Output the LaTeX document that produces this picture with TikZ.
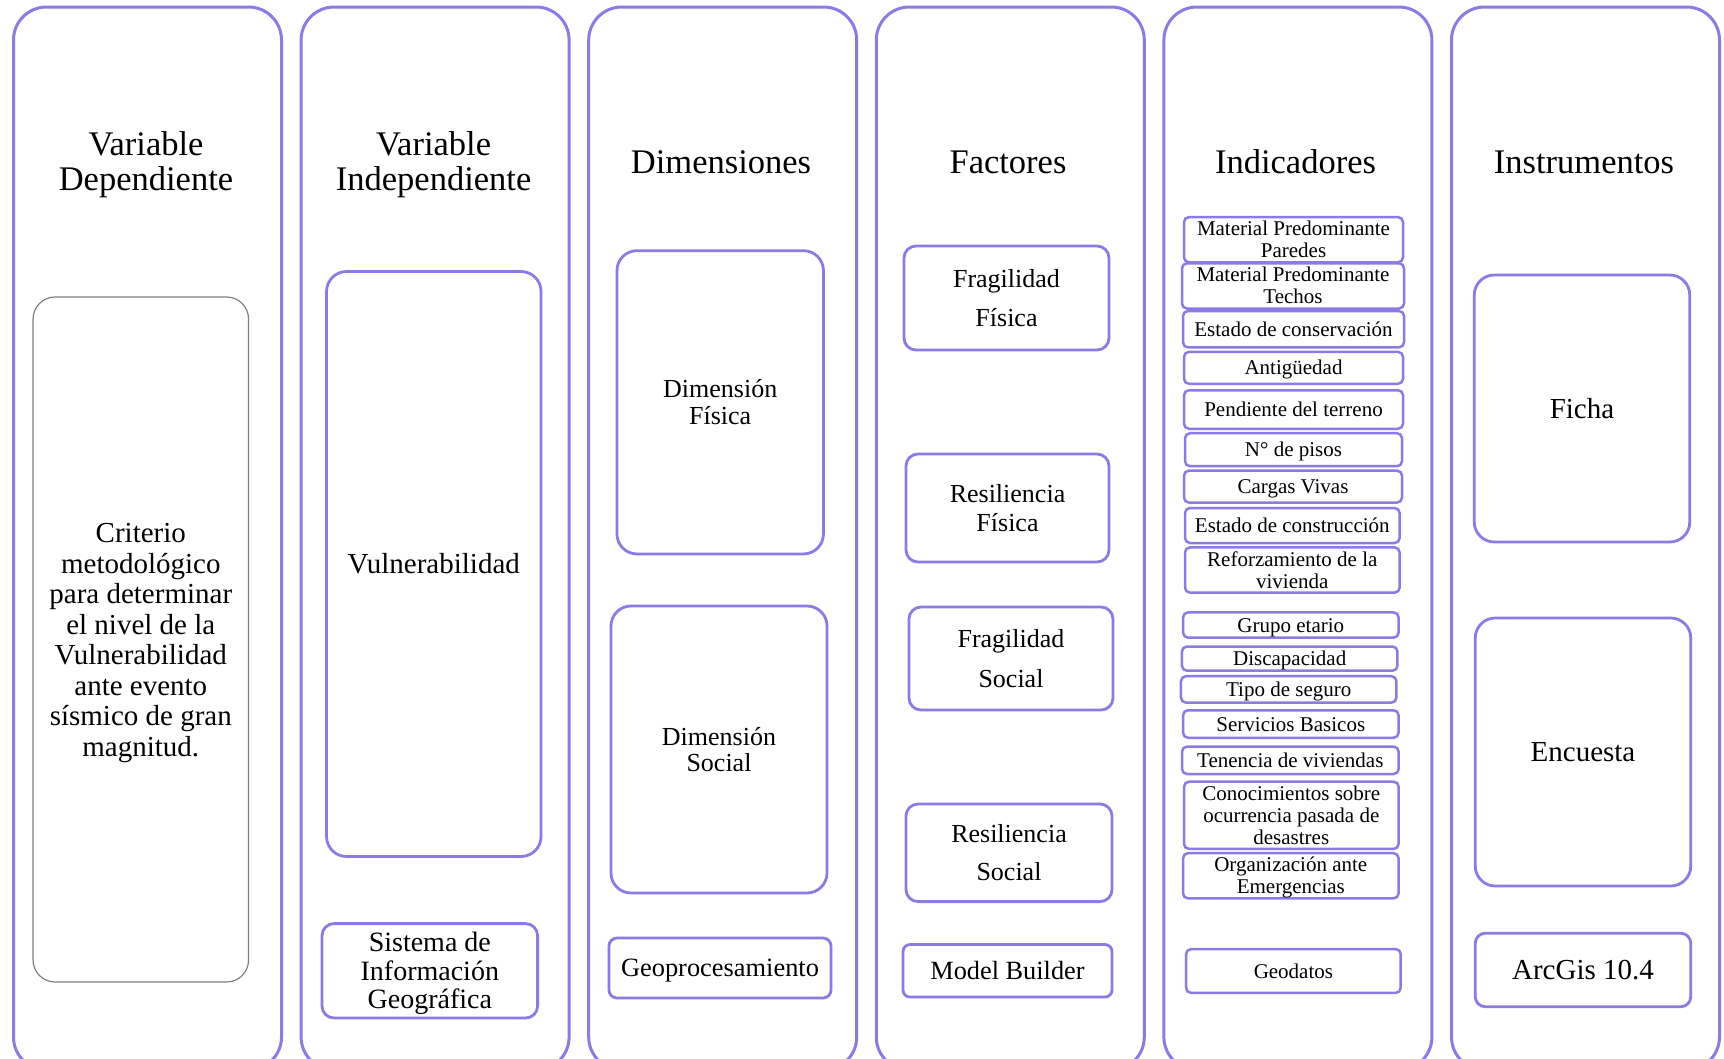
\documentclass[tikz,border=0pt]{standalone}
\usepackage{fontspec}
\setmainfont{Liberation Serif}
\definecolor{lilac}{HTML}{8C7AE6}
\newcommand{\wtop}{\rule{0pt}{0.891em}}
\newcommand{\wbot}{\rule[-0.216em]{0pt}{0.216em}}
\tikzstyle{column} = [draw=lilac, line width=3pt, rounded corners=33pt, minimum width=268pt, minimum height=1063pt, anchor=north west, inner sep=0pt]
\tikzstyle{title} = [align=center, inner sep=0pt, font=\fontsize{34.5}{35.5}\selectfont]
\tikzstyle{box} = [draw=lilac, line width=2.8pt, rounded corners=20pt, align=center, inner sep=0pt]
\tikzstyle{ind} = [draw=lilac, line width=2.5pt, rounded corners=5pt, align=center, inner sep=0pt, font=\fontsize{21}{22}\selectfont]

\begin{document}
\begin{tikzpicture}[x=1pt,y=-1pt]
			\useasboundingbox (0,0) rectangle (1724,1058);
			\clip (0,0) rectangle (1724,1058);
			% columns
			\node[column] (colDep) at (12,5.5) {};
			\node[column] (colInd) at (299.6,5.5) {};
			\node[column] (colDim) at (587.2,5.5) {};
			\node[column] (colFac) at (874.8,5.5) {};
			\node[column] (colIndic) at (1162.4,5.5) {};
			\node[column] (colIns) at (1450,5.5) {};
			% titles
			\node[title] (tDep) at (146,161.5) {\wtop Variable\\\wbot Dependiente};
			\node[title] (tInd) at (433.6,161.5) {\wtop Variable\\\wbot Independiente};
			\node[title] (tDim) at (721,162) {\wtop\wbot Dimensiones};
			\node[title] (tFac) at (1008,162) {\wtop\wbot Factores};
			\node[title] (tIndic) at (1295.5,162) {\wtop\wbot Indicadores};
			\node[title] (tIns) at (1584,162) {\wtop\wbot Instrumentos};
			% variables
			\node[box, draw=gray, line width=1.2pt, rounded corners=22pt, minimum width=215.5pt, minimum height=685pt, font=\fontsize{29}{30.5}\selectfont] (crit) at (140.8,639.5) {\wtop Criterio\\metodológico\\para determinar\\el nivel de la\\Vulnerabilidad\\ante evento\\sísmico de gran\\\wbot magnitud.};
			\node[box, minimum width=214.5pt, minimum height=585pt, font=\fontsize{29}{30}\selectfont] (vuln) at (433.8,564) {\wtop\wbot Vulnerabilidad};
			\node[box, rounded corners=12pt, minimum width=215.6pt, minimum height=94.4pt, font=\fontsize{28}{28.6}\selectfont] (sig) at (429.8,970.8) {\wtop Sistema de\\Información\\\wbot Geográfica};
			% dimensiones
			\node[box, minimum width=206.5pt, minimum height=303.3pt, font=\fontsize{26}{26.4}\selectfont] (dfis) at (720.2,402.3) {\wtop Dimensión\\\wbot Física};
			\node[box, minimum width=216pt, minimum height=287pt, font=\fontsize{26}{26.4}\selectfont] (dsoc) at (719,749.5) {\wtop Dimensión\\\wbot Social};
			\node[box, rounded corners=8pt, minimum width=222pt, minimum height=60pt, font=\fontsize{26.4}{27}\selectfont] (geop) at (720,968) {\wtop\wbot Geoprocesamiento};
			% factores
			\node[box, rounded corners=12pt, minimum width=205pt, minimum height=104pt, font=\fontsize{26}{38.5}\selectfont] (ffis) at (1006.5,298) {\wtop Fragilidad\\\wbot Física};
			\node[box, rounded corners=12pt, minimum width=203pt, minimum height=108pt, font=\fontsize{26}{28.6}\selectfont] (rfis) at (1007.5,508) {\wtop Resiliencia\\\wbot Física};
			\node[box, rounded corners=12pt, minimum width=204pt, minimum height=103pt, font=\fontsize{26}{39.6}\selectfont] (fsoc) at (1011,658.5) {\wtop Fragilidad\\\wbot Social};
			\node[box, rounded corners=12pt, minimum width=206pt, minimum height=97.6pt, font=\fontsize{26}{38.5}\selectfont] (rsoc) at (1009,852.8) {\wtop Resiliencia\\\wbot Social};
			\node[box, rounded corners=7pt, minimum width=209pt, minimum height=52.5pt, font=\fontsize{26.3}{27}\selectfont] (mb) at (1007.5,970.8) {\wtop\wbot Model Builder};
			% indicadores
			\node[ind, minimum width=219pt, minimum height=41.8pt] (i1) at (1293.5,239.7) {\wtop Material Predominante\\\wbot Paredes};
			\node[ind, minimum width=222pt, minimum height=41.8pt] (i2) at (1293,285.9) {\wtop Material Predominante\\\wbot Techos};
			\node[ind, minimum width=221pt, minimum height=36.4pt] (i3) at (1293.5,329.2) {\wtop\wbot Estado de conservación};
			\node[ind, minimum width=219pt, minimum height=31.9pt] (i4) at (1293.5,367.8) {\wtop\wbot Antigüedad};
			\node[ind, minimum width=219pt, minimum height=38.5pt] (i5) at (1293.5,409.5) {\wtop\wbot Pendiente del terreno};
			\node[ind, minimum width=217pt, minimum height=33pt] (i6) at (1293.5,449.7) {\wtop\wbot N° de pisos};
			\node[ind, minimum width=218pt, minimum height=32pt] (i7) at (1293,486.6) {\wtop\wbot Cargas Vivas};
			\node[ind, minimum width=214.6pt, minimum height=35pt] (i8) at (1292.3,525.5) {\wtop\wbot Estado de construcción};
			\node[ind, minimum width=214.6pt, minimum height=43pt] (i9) at (1292.3,570) {\wtop Reforzamiento de la\\\wbot vivienda};
			\node[ind, minimum width=215.5pt, minimum height=25.3pt] (i10) at (1290.8,625) {\wtop\wbot Grupo etario};
			\node[ind, minimum width=215.5pt, minimum height=24.2pt] (i11) at (1289.7,658.6) {\wtop\wbot Discapacidad};
			\node[ind, minimum width=215.5pt, minimum height=26.4pt] (i12) at (1288.7,689.4) {\wtop\wbot Tipo de seguro};
			\node[ind, minimum width=215.5pt, minimum height=27.5pt] (i13) at (1290.8,724) {\wtop\wbot Servicios Basicos};
			\node[ind, minimum width=216.6pt, minimum height=27.4pt] (i14) at (1290.3,760.3) {\wtop\wbot Tenencia de viviendas};
			\node[ind, minimum width=214.6pt, minimum height=62.6pt] (i15) at (1291.3,815.3) {\wtop Conocimientos sobre\\ocurrencia pasada de\\\wbot desastres};
			\node[ind, minimum width=215.5pt, minimum height=43pt] (i16) at (1290.8,875.8) {\wtop Organización ante\\\wbot Emergencias};
			\node[ind, minimum width=214.6pt, minimum height=43.8pt] (i17) at (1293.4,971) {\wtop\wbot Geodatos};
			% instrumentos
			\node[box, minimum width=215.5pt, minimum height=267pt, font=\fontsize{29}{30}\selectfont] (ficha) at (1582,408.5) {\wtop\wbot Ficha};
			\node[box, minimum width=215.5pt, minimum height=268pt, font=\fontsize{29}{30}\selectfont] (enc) at (1583,752) {\wtop\wbot Encuesta};
			\node[box, rounded corners=10pt, minimum width=215.5pt, minimum height=73.5pt, font=\fontsize{29}{30}\selectfont] (arc) at (1583,970) {\wtop\wbot ArcGis 10.4};
		\end{tikzpicture}
\end{document}
